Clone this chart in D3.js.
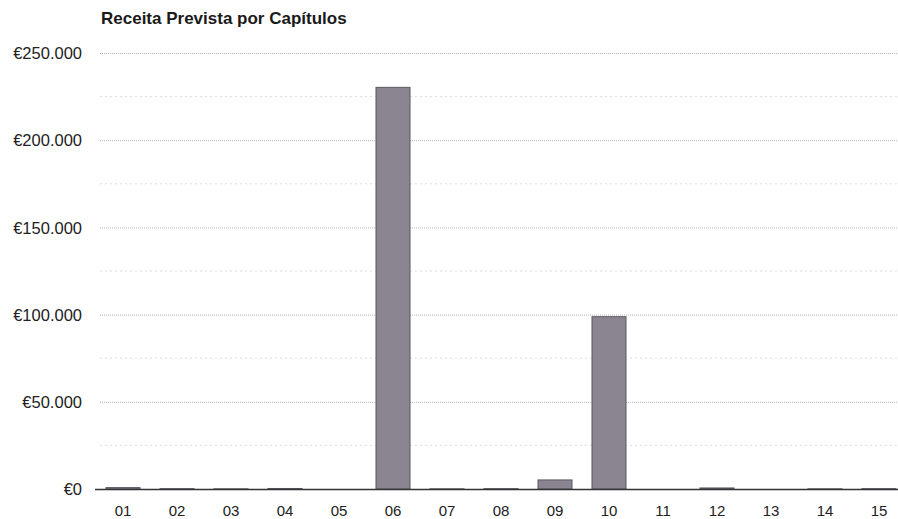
<!DOCTYPE html>
<html><head><meta charset="utf-8">
<script src="https://cdn.jsdelivr.net/npm/d3@7"></script>
<style>
body{margin:0;background:#fff;}
svg{display:block;font-family:"Liberation Sans",Arial,sans-serif;}
</style></head>
<body>
<svg id="c" width="898" height="519"></svg>
<script>
const title = "Receita Prevista por Capítulos";
const categories = ["01","02","03","04","05","06","07","08","09","10","11","12","13","14","15"];
const values = [800,200,100,300,0,230300,100,200,5200,98800,0,600,0,100,200];
const yTicks = [0,50000,100000,150000,200000,250000];
const yMinorTicks = [25000,75000,125000,175000,225000];

const svg = d3.select("#c");
const locale = d3.formatLocale({decimal:",",thousands:".",grouping:[3],currency:["€",""]});
const fmt = locale.format("$,.0f");

const x = d3.scaleBand().domain(categories).range([96,906]).paddingInner(0.37).paddingOuter(0.185);
const y = d3.scaleLinear().domain([0,250000]).range([489,53]);

svg.append("text").attr("x",101).attr("y",24).attr("font-size",17).attr("font-weight","bold")
  .attr("fill","#1a1a1a").text(title);

// minor grid
svg.append("g").selectAll("line").data(yMinorTicks).join("line")
  .attr("x1",100).attr("x2",898).attr("y1",d=>y(d)).attr("y2",d=>y(d))
  .attr("stroke","#dcdcdc").attr("stroke-width",1).attr("stroke-dasharray","2,3");
// major grid
svg.append("g").selectAll("line").data(yTicks.filter(d=>d>0)).join("line")
  .attr("x1",100).attr("x2",898).attr("y1",d=>y(d)+0.5).attr("y2",d=>y(d)+0.5)
  .attr("stroke","#b4b4b4").attr("stroke-width",1).attr("stroke-dasharray","1,1");

// y labels
const yAxis = d3.axisLeft(y).tickValues(yTicks).tickFormat(fmt).tickSize(0).tickPadding(0);
const gy = svg.append("g").attr("transform","translate(82,0.5)").call(yAxis);
gy.select(".domain").remove();
gy.selectAll("text").attr("font-size",16.5).attr("fill","#222").attr("font-family","Liberation Sans, Arial, sans-serif");

// bars
svg.append("g").selectAll("rect").data(categories).join("rect")
  .attr("x",(d)=>x(d)).attr("width",x.bandwidth())
  .attr("y",(d,i)=>y(values[i])).attr("height",(d,i)=>y(0)-y(values[i]))
  .attr("fill","#8b8491").attr("stroke","#5e5862").attr("stroke-width",1);

// baseline
svg.append("line").attr("x1",95).attr("x2",898).attr("y1",y(0)+0.5).attr("y2",y(0)+0.5)
  .attr("stroke","#333").attr("stroke-width",1.5);

// x labels
const xAxis = d3.axisBottom(x).tickSize(0).tickPadding(0);
const gx = svg.append("g").attr("transform","translate(0,505)").call(xAxis);
gx.select(".domain").remove();
gx.selectAll("text").attr("font-size",15).attr("fill","#222").attr("font-family","Liberation Sans, Arial, sans-serif");
</script>
</body></html>
